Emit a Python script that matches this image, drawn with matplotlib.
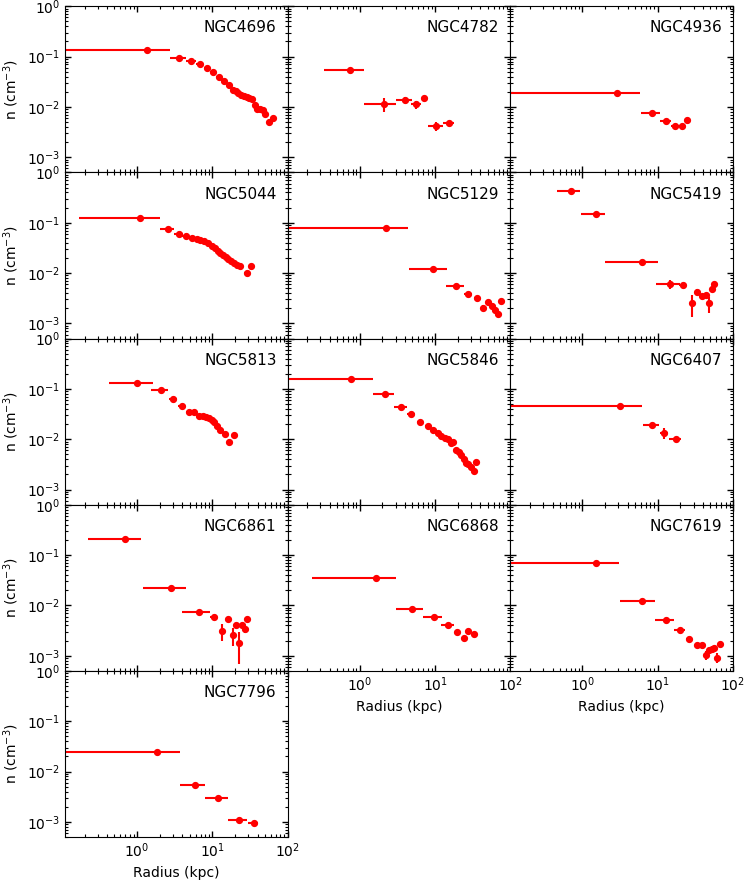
import numpy as np
import matplotlib
matplotlib.use('Agg')
import matplotlib.pyplot as plt

# density profiles: radius (kpc), radial half-width, density (cm^-3), density error
r_4696 = [1.35, 3.56, 5.2, 6.8, 8.5, 10.1, 12.1, 14.3, 16.7, 18.9, 20.5, 22.2, 24.1, 26.1,
          28.4, 30.8, 33.4, 36.3, 39.4, 42.8, 46.4, 50.4, 55.8, 64.4]
dr_4696 = [1.35, 0.85, 0.8, 0.8, 0.85, 0.8, 1.0, 1.1, 1.2, 1.0, 0.8, 0.85, 0.95, 1.0,
           1.15, 1.2, 1.3, 1.45, 1.55, 1.7, 1.8, 2.0, 2.7, 4.3]
n_4696 = [0.137, 0.095, 0.081, 0.070, 0.060, 0.049, 0.0385, 0.0325, 0.0267, 0.0219, 0.0203,
          0.0188, 0.0174, 0.0163, 0.0156, 0.0149, 0.0142, 0.0107, 0.0092, 0.0092, 0.0089,
          0.0073, 0.0051, 0.0061]
dn_4696 = None

r_4782 = [0.735, 2.07, 3.94, 5.63, 7.13, 10.3, 15.4]
dr_4782 = [0.40, 0.95, 0.95, 0.8, 0.5, 2.3, 2.7]
n_4782 = [0.054, 0.0114, 0.0139, 0.0112, 0.0150, 0.00423, 0.00485]
dn_4782 = [0.006, 0.0035, 0.002, 0.0022, 0.0008, 0.0009, 0.0004]

r_4936 = [2.89, 8.4, 12.8, 17.0, 20.9, 24.8]
dr_4936 = [2.9, 2.4, 2.1, 1.9, 1.9, 2.0]
n_4936 = [0.019, 0.0076, 0.0053, 0.0042, 0.0041, 0.0056]
dn_4936 = None

r_5044 = [1.1, 2.57, 3.56, 4.4, 5.3, 6.25, 6.9, 7.8, 8.85, 9.8, 10.9, 11.8, 12.8, 13.9,
          15.0, 16.3, 17.7, 19.2, 21.3, 23.6, 28.4, 32.1]
dr_5044 = [0.93, 0.55, 0.45, 0.4, 0.45, 0.4, 0.35, 0.45, 0.5, 0.5, 0.5, 0.45, 0.5, 0.55,
           0.6, 0.65, 0.7, 0.8, 1.0, 1.2, 2.0, 1.7]
n_5044 = [0.123, 0.0756, 0.060, 0.0548, 0.0507, 0.047, 0.0463, 0.0428, 0.0397, 0.0351,
          0.0316, 0.0279, 0.0255, 0.0233, 0.0212, 0.0194, 0.0174, 0.0158, 0.0147, 0.0138,
          0.0100, 0.0138]
dn_5044 = None

r_5129 = [2.22, 9.4, 19.1, 27.8, 36.0, 43.6, 49.9, 56.4, 62.5, 69.2, 75.1]
dr_5129 = [2.17, 4.9, 5.0, 3.5, 3.5, 2.5, 3.0, 3.0, 3.0, 3.0, 2.8]
n_5129 = [0.077, 0.0120, 0.00542, 0.00382, 0.00318, 0.00204, 0.00272, 0.00217, 0.00189,
          0.00153, 0.00285]
dn_5129 = [0, 0, 0, 0, 0, 0.0003, 0, 0.0002, 0.0002, 0, 0]

r_5419 = [0.70, 1.49, 6.12, 14.5, 21.5, 28.1, 33.7, 38.6, 43.6, 48.3, 52.5, 56.3]
dr_5419 = [0.24, 0.52, 4.1, 5.0, 2.2, 1.2, 1.5, 1.5, 1.5, 1.5, 1.3, 1.3]
n_5419 = [0.419, 0.151, 0.0163, 0.00604, 0.00577, 0.00253, 0.00425, 0.00349, 0.00371,
          0.00249, 0.00481, 0.00621]
dn_5419 = [0.01, 0.006, 0.0008, 0.0012, 0.0005, 0.0012, 0.0005, 0.0003, 0.0003, 0.0009,
           0.0005, 0.0004]

r_5813 = [1.01, 2.05, 2.99, 3.94, 4.89, 5.75, 6.64, 7.42, 8.24, 9.03, 9.8, 10.6, 11.6,
          12.5, 14.5, 16.7, 19.2]
dr_5813 = [0.59, 0.5, 0.38, 0.45, 0.45, 0.4, 0.45, 0.4, 0.4, 0.4, 0.4, 0.45, 0.5, 0.5,
           0.8, 1.0, 1.2]
n_5813 = [0.1316, 0.0955, 0.063, 0.0452, 0.0354, 0.0348, 0.0294, 0.0285, 0.0277, 0.0269,
          0.0238, 0.0217, 0.0186, 0.0155, 0.0129, 0.00867, 0.0123]
dn_5813 = None

r_5846 = [0.76, 2.17, 3.52, 4.83, 6.37, 7.98, 9.5, 10.9, 12.1, 13.5, 14.9, 16.2, 17.5,
          19.1, 20.7, 22.2, 23.9, 25.6, 27.8, 30.2, 32.8, 34.9]
dr_5846 = [0.75, 0.66, 0.7, 0.55, 0.6, 0.6, 0.6, 0.6, 0.6, 0.65, 0.65, 0.65, 0.7, 0.75,
           0.8, 0.8, 0.85, 0.9, 1.0, 1.1, 1.2, 1.0]
n_5846 = [0.160, 0.078, 0.0445, 0.0318, 0.0221, 0.0181, 0.0155, 0.0131, 0.0114, 0.0104,
          0.0101, 0.00855, 0.00867, 0.00621, 0.00558, 0.00479, 0.00406, 0.00343, 0.00323,
          0.00277, 0.00234, 0.00354]
dn_5846 = None

r_6407 = [3.11, 8.32, 12.1, 17.4]
dr_6407 = [3.07, 2.0, 1.45, 3.2]
n_6407 = [0.0466, 0.0189, 0.0135, 0.0103]
dn_6407 = [0, 0.001, 0.0035, 0.0005]

r_6861 = [0.68, 2.81, 6.57, 10.4, 13.6, 16.3, 18.7, 20.7, 22.7, 25.1, 26.7, 28.4]
dr_6861 = [0.46, 1.6, 2.6, 1.2, 0.8, 0.8, 0.8, 0.8, 0.9, 0.8, 0.8, 0.9]
n_6861 = [0.211, 0.0224, 0.00723, 0.00582, 0.00307, 0.00525, 0.00256, 0.00404, 0.0018,
          0.00411, 0.00332, 0.00525]
dn_6861 = [0, 0, 0.0004, 0.0003, 0.0011, 0.0004, 0.0010, 0.0003, 0.0011, 0.0003, 0.0005,
           0.0004]

r_6868 = [1.63, 4.93, 9.6, 14.8, 19.7, 24.1, 27.8, 33.4]
dr_6868 = [1.40, 1.9, 2.7, 2.8, 1.3, 1.2, 1.3, 1.5]
n_6868 = [0.0347, 0.0083, 0.00583, 0.00411, 0.00299, 0.0023, 0.00307, 0.00276]
dn_6868 = None

r_7619 = [1.52, 6.12, 12.9, 19.7, 26.1, 33.1, 39.0, 44.1, 47.9, 51.9, 55.8, 60.5, 66.3]
dr_7619 = [1.56, 3.0, 3.7, 3.4, 2.0, 2.0, 2.0, 1.5, 1.5, 1.5, 1.5, 1.5, 1.8]
n_7619 = [0.0703, 0.0120, 0.00508, 0.00317, 0.00213, 0.00165, 0.00162, 0.00102, 0.00127,
          0.00137, 0.00141, 0.00091, 0.00169]
dn_7619 = [0, 0, 0, 0, 0, 0, 0, 0.0002, 0.0001, 0, 0, 0.0002, 0]

r_7796 = [1.85, 5.81, 11.9, 22.7, 35.2]
dr_7796 = [1.81, 2.05, 4.0, 6.35, 5.3]
n_7796 = [0.0245, 0.00534, 0.00304, 0.00111, 0.00093]
dn_7796 = None

panels = [
    ('NGC4696', r_4696, dr_4696, n_4696, dn_4696),
    ('NGC4782', r_4782, dr_4782, n_4782, dn_4782),
    ('NGC4936', r_4936, dr_4936, n_4936, dn_4936),
    ('NGC5044', r_5044, dr_5044, n_5044, dn_5044),
    ('NGC5129', r_5129, dr_5129, n_5129, dn_5129),
    ('NGC5419', r_5419, dr_5419, n_5419, dn_5419),
    ('NGC5813', r_5813, dr_5813, n_5813, dn_5813),
    ('NGC5846', r_5846, dr_5846, n_5846, dn_5846),
    ('NGC6407', r_6407, dr_6407, n_6407, dn_6407),
    ('NGC6861', r_6861, dr_6861, n_6861, dn_6861),
    ('NGC6868', r_6868, dr_6868, n_6868, dn_6868),
    ('NGC7619', r_7619, dr_7619, n_7619, dn_7619),
    ('NGC7796', r_7796, dr_7796, n_7796, dn_7796),
]

plt.rcParams['font.family'] = 'DejaVu Sans'
plt.rcParams['font.size'] = 10

fig, axes = plt.subplots(5, 3, figsize=(7.47, 8.81), dpi=100,
                         gridspec_kw=dict(left=65 / 747, right=733 / 747,
                                          top=1 - 6.3 / 881, bottom=1 - 837 / 881,
                                          hspace=0, wspace=0))
for ax in axes.flat[len(panels):]:
    ax.remove()

for i, (name, r, dr, n, dn) in enumerate(panels):
    ax = axes.flat[i]
    col = i % 3
    ax.set_xscale('log')
    ax.set_yscale('log')
    ax.errorbar(r, n, xerr=dr, yerr=dn, fmt='o', color='red', mec='red',
                ms=4.2, elinewidth=1.5, capsize=0)
    ax.set_xlim(0.11, 100)
    ax.set_ylim(5e-4, 1)
    ax.tick_params(which='both', direction='in', top=True, right=True)
    ax.tick_params(which='major', length=4, width=1)
    ax.tick_params(which='minor', length=2, width=0.8)
    ax.text(0.95, 0.87, name, transform=ax.transAxes, ha='right', va='center',
            fontsize=11)
    if col == 0:
        ax.set_ylabel(r'n (cm$^{-3}$)')
    else:
        ax.tick_params(labelleft=False)
    if i >= 10:
        ax.set_xlabel('Radius (kpc)')
    else:
        ax.tick_params(labelbottom=False)

fig.savefig('out.png', dpi=100)
